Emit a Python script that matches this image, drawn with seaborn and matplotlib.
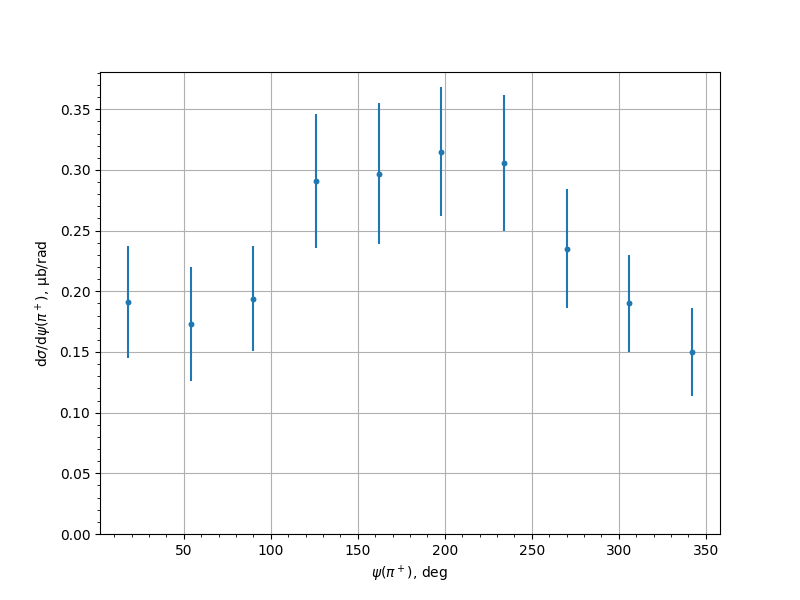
import matplotlib
matplotlib.use('Agg')
import pandas as pd
import matplotlib.pyplot as plt
import seaborn as sns

psi_deg = [18, 54, 90, 126, 162, 198, 234, 270, 306, 342]
dsigma = [0.191, 0.173, 0.194, 0.291, 0.297, 0.315, 0.306, 0.235, 0.190, 0.150]
dsigma_err = [0.046, 0.047, 0.043, 0.055, 0.058, 0.053, 0.056, 0.049, 0.040, 0.036]

df = pd.DataFrame({'psi': psi_deg, 'dsigma': dsigma, 'err': dsigma_err})

fig, ax = plt.subplots(figsize=(8, 6), dpi=100)
ax.errorbar(df['psi'], df['dsigma'], yerr=df['err'], fmt='none',
            ecolor='tab:blue', elinewidth=1.5)
sns.scatterplot(data=df, x='psi', y='dsigma', ax=ax, color='tab:blue',
                s=18, linewidth=0, zorder=3)

ax.set_ylim(bottom=0)
ax.minorticks_on()
ax.grid(True, which='major')
ax.set_axisbelow(True)
ax.set_xlabel(r'$\psi(\pi^+)$, deg')
ax.set_ylabel(r'd$\sigma$/d$\psi(\pi^+)$, µb/rad')

plt.savefig('out.png', dpi=100)
